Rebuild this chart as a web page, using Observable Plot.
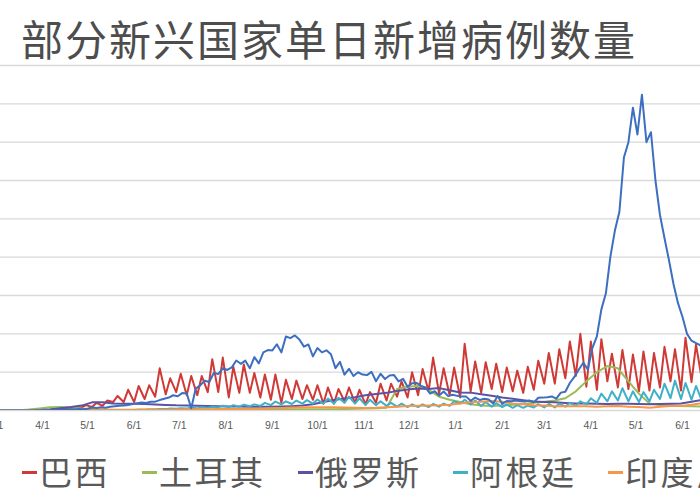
<!DOCTYPE html>
<html><head><meta charset="utf-8">
<script src="https://cdn.jsdelivr.net/npm/d3@7"></script>
<script src="https://cdn.jsdelivr.net/npm/@observablehq/plot@0.6"></script>
<style>
html,body{margin:0;padding:0;background:#fff;}
#wrap{position:relative;width:700px;height:500px;overflow:hidden;font-family:"Noto Sans CJK SC",sans-serif;}
#title{position:absolute;left:21px;top:17px;font-size:42px;line-height:42px;letter-spacing:2px;color:#4d4d4d;white-space:nowrap;}
#chart{position:absolute;left:-20px;top:60px;width:740px;height:380px;}
#chart svg{max-width:none !important;width:740px;height:380px;display:block;}
.item{position:absolute;top:455px;height:33px;white-space:nowrap;font-size:33px;line-height:33px;letter-spacing:2.5px;color:#595959;}
.sw{position:absolute;left:0;top:16px;width:15px;height:3px;}
.t{position:absolute;left:17px;top:0;}
</style></head><body>
<div id="wrap">
  <div id="title">部分新兴国家单日新增病例数量</div>
  <div id="chart"></div>
  <div id="legend"></div>
</div>
<script>
// ---- data (daily new cases, thousands) ----
const countries = ["巴西", "土耳其", "俄罗斯", "阿根廷", "印度尼西亚", "印度"];
const colors = ["#d03a36", "#9bbb59", "#5b52a3", "#3fb0c8", "#f79646", "#3d6fc0"];
const legendX = [22, 142, 298, 453, 608, 834];

// weekly series: one value per week, weeks starting Monday 2020-03-02
const weeklyStart = "2020-03-02";
const brazilLow = [0,0,0.05,0.2,0.3,0.9,1.2,1.5,4,4.5,
  6,11,11,11,15,18,21,24,20,20,
  24,24,17,23,23,17,14,10,15,15,
  14,9,9,12,10,8,10,13,18,17,
  20,25,22,20,17,25,23,28,24,25,
  23,27,35,35,42,45,31,27,38,30,
  28,25,26,30,38,26,37,39,40];
const brazilHigh = [0,0.03,0.1,0.4,1.2,2.2,3,4.5,7,10,
  13,19,27,32,33,55,42,48,45,45,
  67,69,57,60,49,47,47,40,39,33,
  33,30,28,30,27,24,35,35,38,50,
  54,69,55,56,87,64,63,61,56,52,
  57,65,75,80,90,100,90,93,74,79,
  73,77,75,83,80,95,86,98,115];
const turkey = [0,0,0.1,1.2,2.7,4.1,4.6,3.8,2.6,1.8,
  1.4,1.0,0.9,0.9,1.2,1.4,1.4,1.2,1.1,1.0,
  0.95,0.95,1.0,1.2,1.3,1.5,1.6,1.7,1.75,1.7,
  1.5,1.6,1.7,2.0,2.3,2.5,3.0,3.5,28,31,
  32,27,18,14,11,8,6.5,6,6.5,7.5,
  8.5,10,11.5,13,16,25,38,50,58,55,
  38,22,9,7,6.5,6,5.5,5.2,5.0];
const russia = [0,0,0.02,0.1,0.5,1.2,3,4.5,6.4,10.6,
  10.9,9,8.9,8.8,8.6,7.8,7.2,6.7,6.6,6.2,
  5.8,5.5,5.2,5.1,4.9,4.8,5.0,5.3,5.7,6.4,
  8.1,11,13.6,15.7,17.3,19.8,21.5,23,25.3,27.4,
  28.6,28.2,29.2,26.5,23.5,23.3,21.1,19.2,17,15.3,
  13.4,11.8,11.2,10.6,9.9,9.2,9.0,8.7,8.5,8.8,
  8.9,8.4,8.2,8.5,8.9,9.2,11.5,13.7,17.6];
const argentinaLow = [0,0,0,0.05,0.05,0.05,0.05,0.08,0.1,0.12,
  0.2,0.4,0.5,0.6,0.8,1.2,1.8,2.2,2.5,2.8,
  3.5,4,4.5,5,5.5,6,7,8,8.5,9,
  9,9,9,10,9,7,7,6,5,4.5,
  4.5,4.5,5,6,9,8,6,5,4.5,3.5,
  3.5,4,4,4,5,6,8,10,12,13,
  12,11,12,15,16,15,14,12,10];
const argentinaHigh = [0,0,0.02,0.1,0.1,0.15,0.15,0.15,0.2,0.25,
  0.3,0.6,0.8,1.0,1.4,2.0,2.6,3.0,3.7,4.3,
  5.0,6.3,7.0,7.6,8.0,10,11.7,12,13,13.5,
  14.4,15.5,16.5,18,16,14,12,10,9,8,
  8,8.5,9,12,14,13,11,9.5,8,7,
  6.5,8,8.5,9,10,12,16,22,25,29,
  25,24,27,35,39,36,32,27,22];
const indonesia = [0,0,0.02,0.1,0.15,0.3,0.35,0.35,0.3,0.35,
  0.5,0.5,0.6,0.6,0.9,1.1,1.1,1.3,1.5,1.6,
  1.7,1.8,1.9,2.0,2.2,2.3,2.9,3.3,3.8,4.2,
  4.2,4.3,4.1,4.0,3.6,3.3,3.6,4.3,5.0,5.8,
  6.2,6.6,6.8,7.5,9,11,11.5,12.5,11.5,9,
  8,7,6.5,5.5,5.5,5.5,5.5,5.0,5.5,5.8,
  5.0,4.5,3.5,5.0,5.8,6.0,7.5,9.5,14];

// India: one value every 3 days from 2020-03-02
const indiaStart = "2020-03-02";
const india = [0,0,0.01,0.02,0.02,0.03,0.1,0.1,0.1,0.2,
  0.4,0.6,0.6,0.9,0.8,1.0,1.3,1.4,1.8,1.6,
  2.4,3.9,3.3,4.2,3.7,4.8,5.6,6.1,6.5,7.3,
  8.4,9.6,10.4,9.9,11.4,11.5,13.6,15.4,16.9,19.9,
  18.6,22.7,22.3,3,28.6,32.7,38.9,37.1,49.0,47.7,
  55.1,52.9,56.3,65.2,60.9,65.0,55.1,69.7,61.4,75.8,
  78.8,78.4,86.4,75.8,96.6,94.4,97.9,92.6,83.3,86.1,
  70.6,81.5,75.8,78.5,73.3,55.3,63.4,46.8,54.4,45.1,
  49.9,46.9,46.2,50.4,38.1,47.9,41.1,45.6,46.2,37.9,
  41.3,31.1,35.6,36.0,32.1,30.0,22.1,25.1,19.6,24.7,
  18.7,20.5,19.1,18.1,18.1,12.6,16.9,13.8,15.2,14.3,
  9.1,18.9,8.6,12.4,12.1,12.9,12.2,11.6,13.2,10.6,
  16.6,16.8,17.4,18.3,15.4,23.3,24.5,35.9,43.8,53.5,
  62.3,53.5,81.5,96.6,131.9,152.9,200.7,234.7,259.2,330,
  350,395,360,412,350,363,300,255,225,196,
  165,140,122,100,91,88,85,70,62];

const tickDates = ["2020-03-01","2020-04-01","2020-05-01","2020-06-01","2020-07-01","2020-08-01",
  "2020-09-01","2020-10-01","2020-11-01","2020-12-01","2021-01-01","2021-02-01",
  "2021-03-01","2021-04-01","2021-05-01","2021-06-01"];
const gridValues = [0,50000,100000,150000,200000,250000,300000,350000,400000,450000];

// ---- build table ----
const parse = d3.utcParse("%Y-%m-%d");
const w0 = parse(weeklyStart);
const rows = [];
function addWeekly(name, vals) {
  vals.forEach((v, i) => rows.push({country: name, date: d3.utcDay.offset(w0, 7 * i), value: v * 1000}));
}
function addHiLo(name, lo, hi) {
  lo.forEach((v, i) => {
    rows.push({country: name, date: d3.utcDay.offset(w0, 7 * i), value: v * 1000});
    rows.push({country: name, date: d3.utcDay.offset(w0, 7 * i + 3), value: hi[i] * 1000});
  });
}
addHiLo("巴西", brazilLow, brazilHigh);
addWeekly("土耳其", turkey);
addWeekly("俄罗斯", russia);
addHiLo("阿根廷", argentinaLow, argentinaHigh);
addWeekly("印度尼西亚", indonesia);
const i0 = parse(indiaStart);
india.forEach((v, i) => rows.push({country: "印度", date: d3.utcDay.offset(i0, 3 * i), value: v * 1000}));

const chart = Plot.plot({
  width: 740,
  height: 380,
  marginLeft: 20,
  marginRight: 20,
  marginTop: 5,
  marginBottom: 30,
  style: {color: "#595959", fontFamily: "'Liberation Sans Narrow','Liberation Sans',sans-serif", background: "transparent", maxWidth: "none"},
  x: {type: "utc", domain: [new Date(Date.UTC(2020, 2, 4, 1)), new Date(Date.UTC(2021, 5, 12, 23, 30))]},
  y: {domain: [0, 450000], axis: null},
  color: {domain: countries, range: colors},
  marks: [
    Plot.ruleY(gridValues, {stroke: "#d9d9d9", strokeWidth: 1.4}),
    Plot.axisX(tickDates.map(parse), {tickSize: 0, tickPadding: 11, fontSize: 10.5, tickFormat: d3.utcFormat("%-m/%-d")}),
    Plot.line(rows, {x: "date", y: "value", z: "country", stroke: "country", strokeWidth: 2, clip: true})
  ]
});
document.getElementById("chart").appendChild(chart);

// ---- legend ----
const legend = document.getElementById("legend");
countries.forEach((c, i) => {
  const it = document.createElement("div");
  it.className = "item";
  it.style.left = legendX[i] + "px";
  it.innerHTML = `<div class="sw" style="background:${colors[i]}"></div><span class="t">${c}</span>`;
  legend.appendChild(it);
});
</script>
</body></html>
